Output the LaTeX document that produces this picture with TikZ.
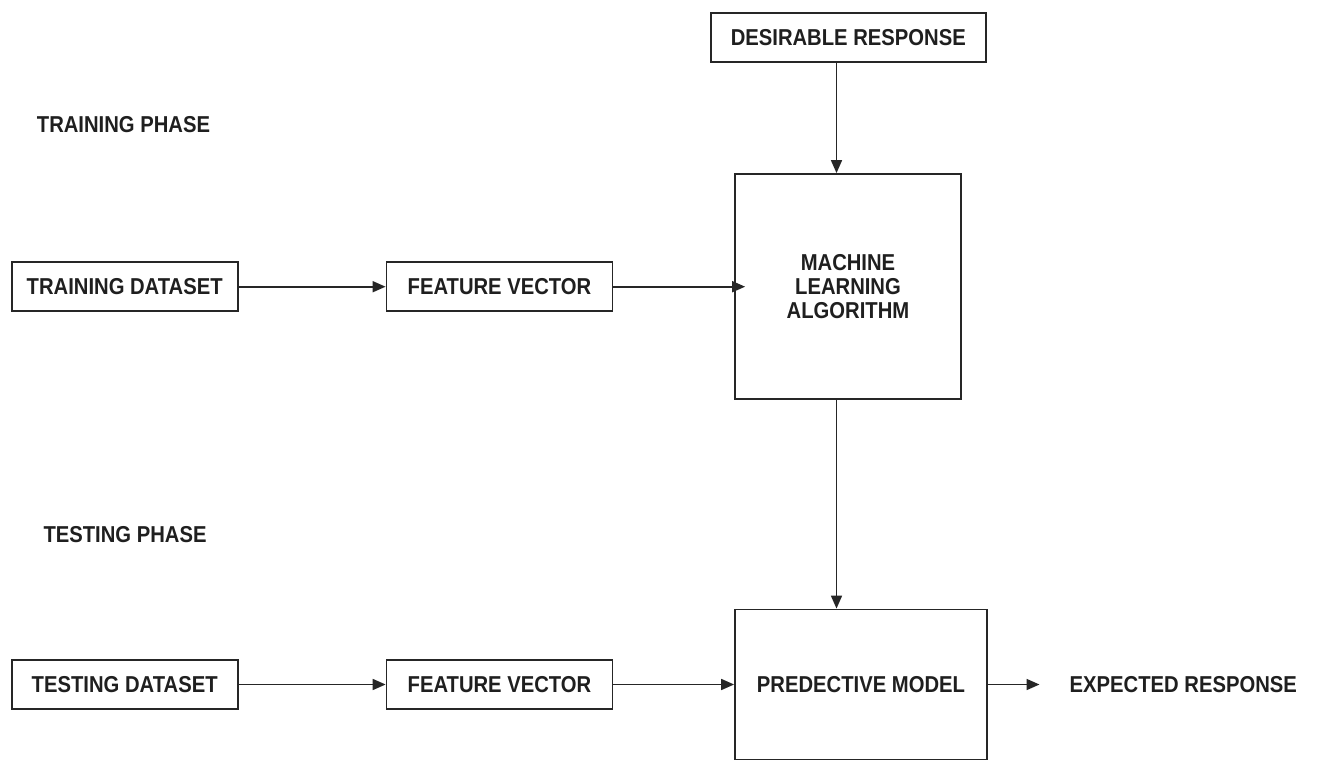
\documentclass[tikz,border=0pt]{standalone}
\usepackage{fontspec}
\setmainfont{Liberation Sans}[FakeStretch=0.88]
\usetikzlibrary{arrows.meta}
\begin{document}
\begin{tikzpicture}[x=1pt,y=-1pt,
  txt/.style={font=\fontsize{23}{24}\selectfont\bfseries, text=black!88},
  box/.style={draw=black!85, line width=1.8pt, txt, inner sep=0pt, align=center},
  arr/.style={draw=black!85, line width=1.7pt, -{Triangle[length=13pt,width=11pt]}}
]
\useasboundingbox (0,0) rectangle (1320,760);
\fill[white] (0,0) rectangle (1320,760);

\node[box, minimum width=275pt, minimum height=49pt] (des) at (848.3,37.5) {DESIRABLE RESPONSE};
\node[box, minimum width=226pt, minimum height=225pt] (ml) at (848,286.5) {MACHINE\\LEARNING\\ALGORITHM};
\node[box, minimum width=226pt, minimum height=49pt] (trd) at (124.7,286.7) {TRAINING DATASET};
\node[box, minimum width=226pt, minimum height=49pt] (fv1) at (499.5,286.7) {FEATURE VECTOR};
\node[box, minimum width=226pt, minimum height=49pt] (ted) at (124.7,684.5) {TESTING DATASET};
\node[box, minimum width=226pt, minimum height=49pt] (fv2) at (499.5,684.5) {FEATURE VECTOR};
\node[box, minimum width=252pt, minimum height=150pt] (pm) at (861,684.5) {PREDECTIVE MODEL};

\node[txt, anchor=west, inner sep=0pt] (trp) at (36.7,125) {TRAINING PHASE};
\node[txt, anchor=west, inner sep=0pt] (tep) at (43.3,535) {TESTING PHASE};
\node[txt, anchor=west, inner sep=0pt] (exp) at (1069.5,685) {EXPECTED RESPONSE};

\coordinate (ax) at (836.5,0);
\draw[arr] (des.south -| ax) -- (ml.north -| ax);
\draw[arr] (ml.south -| ax) -- (pm.north -| ax);
\draw[arr] (trd.east) -- (fv1.west);
\draw[arr, shorten >=-11pt] (fv1.east) -- (fv1.east -| ml.west);
\draw[arr] (ted.east) -- (fv2.west);
\draw[arr] (fv2.east) -- (fv2.east -| pm.west);
\draw[arr, shorten >=30pt] (pm.east) -- (pm.east -| exp.west);
\end{tikzpicture}
\end{document}
